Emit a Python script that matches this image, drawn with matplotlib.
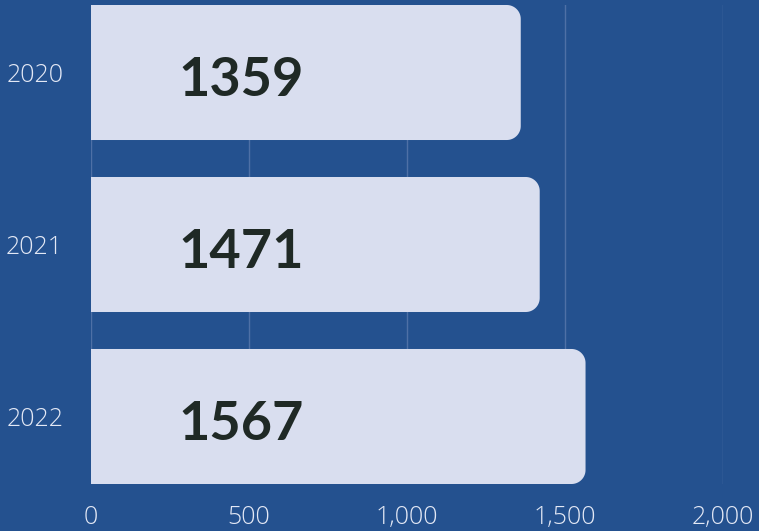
import numpy as np
import matplotlib
matplotlib.use("Agg")
import matplotlib.pyplot as plt
from matplotlib.patches import Polygon
from matplotlib.ticker import FuncFormatter

years = ["2020", "2021", "2022"]
labels = [1359, 1471, 1567]
# bar lengths as drawn in the picture (the 2021 bar is shorter than its label)
bar_values = [1360, 1420, 1565]
xticks = [0, 500, 1000, 1500, 2000]

bg = "#24518F"
bar_col = "#D9DEEF"
txt_col = "#1F2925"
tick_col = "#E3E8F5"
grid_col = "#4E70A6"

W, H = 759, 531
fig = plt.figure(figsize=(W / 100, H / 100), dpi=100, facecolor=bg)
ax = fig.add_axes([91 / W, 1 - 484 / H, (723 - 91) / W, (484 - 5) / H])
ax.set_facecolor(bg)

ax.set_xlim(0, 2000)
ax.set_ylim(2.3925, -0.3925)
bh = 0.785

# corner radius in data units (~14 px)
rx = 14 * 2000 / 632
ry = 14 / 172

for i, v in enumerate(bar_values):
    y0, y1 = i - bh / 2, i + bh / 2
    t = np.linspace(0, np.pi / 2, 20)
    top = [(v - rx + rx * np.sin(a), y0 + ry - ry * np.cos(a)) for a in t]
    bot = [(v - rx + rx * np.cos(a), y1 - ry + ry * np.sin(a)) for a in t]
    pts = [(0, y0)] + top + bot + [(0, y1)]
    ax.add_patch(Polygon(pts, closed=True, facecolor=bar_col, edgecolor="none", zorder=2))
    ax.text(278, i + 0.045, str(labels[i]), color=txt_col, fontsize=39, fontweight="bold",
            family="Lato", va="center", ha="left", zorder=3)

ax.set_xticks(xticks)
ax.xaxis.set_major_formatter(FuncFormatter(lambda x, p: f"{int(x):,}"))
ax.set_yticks(range(len(years)))
ax.set_yticklabels(years)
ax.grid(axis="x", color=grid_col, linewidth=1, zorder=1)
ax.set_axisbelow(True)
for s in ax.spines.values():
    s.set_visible(False)
ax.tick_params(length=0, colors=tick_col, labelsize=18, pad=8)
for lab in ax.get_xticklabels() + ax.get_yticklabels():
    lab.set_family("Open Sans")
    lab.set_fontweight("light")
ax.tick_params(axis="x", pad=15)
ax.tick_params(axis="y", pad=20)

fig.savefig("out.png", dpi=100, facecolor=bg)
